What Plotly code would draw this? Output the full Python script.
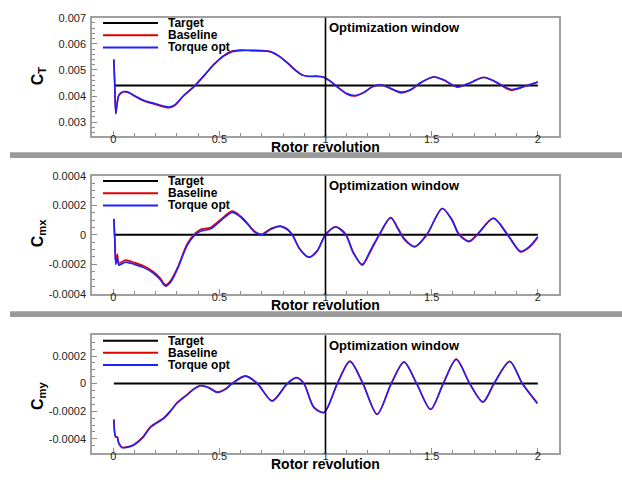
import plotly.graph_objects as go

# ---------------- data ----------------
# Thrust coefficient C_T
ct_x = [0.003, 0.007, 0.012, 0.018, 0.025, 0.035, 0.05, 0.06, 0.08, 0.10, 0.145, 0.20, 0.24,
        0.265, 0.29, 0.33, 0.385, 0.43, 0.475, 0.52, 0.56, 0.60, 0.65, 0.70, 0.74, 0.78,
        0.82, 0.86, 0.89, 0.92, 0.96, 0.99, 1.02, 1.06, 1.10, 1.14, 1.18, 1.22, 1.26, 1.30,
        1.355, 1.40, 1.45, 1.51, 1.56, 1.62, 1.68, 1.745, 1.80, 1.875, 1.94, 2.0]
ct_torque = [0.00539, 0.0045, 0.00334, 0.0037, 0.0040, 0.00411, 0.00417, 0.00417, 0.00411,
             0.00401, 0.00383, 0.0037, 0.00361, 0.00358, 0.00366, 0.0040, 0.0044, 0.0048,
             0.00521, 0.00553, 0.0057, 0.00574, 0.00574, 0.00573, 0.0057, 0.00553, 0.00527,
             0.00497, 0.0048, 0.00475, 0.00475, 0.00472, 0.00458, 0.00432, 0.0041, 0.00402,
             0.00414, 0.00435, 0.00443, 0.00432, 0.00415, 0.00424, 0.00452, 0.00473, 0.0046,
             0.00436, 0.0045, 0.00471, 0.00455, 0.00425, 0.00438, 0.00454]
ct_baseline = [0.00541, 0.0045, 0.00332, 0.0037, 0.0040, 0.00410, 0.00416, 0.00416, 0.00410,
               0.00400, 0.00381, 0.00368, 0.00358, 0.00355, 0.00364, 0.0040, 0.0044, 0.0048,
               0.00522, 0.00555, 0.00572, 0.00576, 0.00575, 0.00574, 0.0057, 0.00554, 0.00528,
               0.00498, 0.00481, 0.00476, 0.00476, 0.00473, 0.00459, 0.00432, 0.00408, 0.00400,
               0.00413, 0.00435, 0.00442, 0.00431, 0.00412, 0.00423, 0.00452, 0.00474, 0.0046,
               0.00434, 0.0045, 0.00472, 0.00455, 0.00422, 0.00437, 0.00454]
ct_target = 0.0044

# Rolling moment coefficient C_mx
cmx_x = [0.003, 0.008, 0.012, 0.019, 0.026, 0.035, 0.058, 0.10, 0.144, 0.19, 0.22, 0.246,
         0.27, 0.302, 0.349, 0.385, 0.411, 0.459, 0.51, 0.561, 0.60, 0.631, 0.665, 0.699,
         0.745, 0.788, 0.82, 0.843, 0.88, 0.922, 0.96, 1.0, 1.048, 1.095, 1.13, 1.173, 1.21,
         1.252, 1.307, 1.345, 1.37, 1.421, 1.476, 1.55, 1.595, 1.629, 1.676, 1.715, 1.791,
         1.857, 1.919, 1.96, 2.0]
cmx_torque = [0.000108, -0.00005, -0.0002, -0.000155, -0.000205, -0.0002, -0.000185, -0.0002,
              -0.000222, -0.00026, -0.0003, -0.000347, -0.00032, -0.000233, -0.00007, 0.0,
              0.000024, 0.00004, 0.0001, 0.000152, 0.00012, 0.000075, 0.00002, 0.0, 0.00004,
              0.000057, 0.000035, 0.0, -0.0001, -0.000152, -0.00011, 0.0, 0.000053, 0.0,
              -0.00012, -0.0002, -0.00011, 0.0, 0.000115, 0.00003, -0.00003, -0.000079, 0.0,
              0.000178, 0.0001, 0.0, -0.000046, 0.0, 0.000112, 0.0, -0.000112, -0.00008,
              -0.000013]
cmx_baseline = [0.000108, -0.00005, -0.00019, -0.00013, -0.00019, -0.000188, -0.000171,
                -0.000188, -0.000211, -0.00025, -0.00029, -0.000338, -0.00031, -0.000225,
                -0.00006, 0.000008, 0.000036, 0.00005, 0.000108, 0.00016, 0.000126, 0.00008,
                0.000025, 0.000004, 0.000044, 0.00006, 0.00004, 0.000004, -0.000098,
                -0.000152, -0.000112, 0.0, 0.000055, 0.000006, -0.000115, -0.000205,
                -0.000118, -0.000006, 0.000116, 0.000036, -0.000024, -0.000082, -0.000004,
                0.000178, 0.000106, 0.000006, -0.000044, 0.000004, 0.000113, 0.000006,
                -0.000116, -0.000085, -0.000018]

# Pitching moment coefficient C_my
cmy_x = [0.003, 0.011, 0.019, 0.026, 0.042, 0.07, 0.097, 0.14, 0.176, 0.238, 0.27, 0.302,
         0.349, 0.38, 0.411, 0.45, 0.49, 0.53, 0.561, 0.623, 0.679, 0.749, 0.82, 0.864,
         0.898, 0.945, 0.993, 1.056, 1.115, 1.176, 1.243, 1.31, 1.37, 1.429, 1.495, 1.555,
         1.616, 1.679, 1.742, 1.794, 1.868, 1.927, 1.998]
cmy_torque = [-0.000264, -0.000387, -0.00039, -0.000433, -0.000464, -0.00046, -0.000445,
              -0.00039, -0.000316, -0.000252, -0.0002, -0.000139, -0.00008, -0.00004,
              -0.000016, -0.00003, -0.000064, -0.00004, 0.0, 0.000054, 0.0, -0.000127, 0.0,
              0.000042, 0.0, -0.000174, -0.00021, 0.0, 0.00016, 0.0, -0.000221, 0.0,
              0.000155, 0.0, -0.000186, 0.0, 0.000175, 0.0, -0.000132, 0.0, 0.00016, 0.0,
              -0.000144]
cmy_baseline = [-0.000258, -0.000383, -0.000386, -0.00043, -0.000462, -0.000458, -0.000442,
                -0.000386, -0.000312, -0.000248, -0.000196, -0.000136, -0.000078, -0.000038,
                -0.000014, -0.000028, -0.000061, -0.000037, 0.000003, 0.000056, 0.000002,
                -0.000125, 0.000002, 0.000044, 0.000002, -0.00017, -0.000208, 0.000003,
                0.000163, 0.000003, -0.000224, 0.000003, 0.000158, 0.000003, -0.000188,
                0.000003, 0.000178, 0.000003, -0.000135, 0.000003, 0.000162, 0.000003,
                -0.00014]

target_x = [0.003, 2.0]
window_start = 1.0

x_tickvals = [0, 0.5, 1, 1.5, 2]
x_ticktext = ["0", "0.5", "1", "1.5", "2"]
ct_tickvals = [0.003, 0.004, 0.005, 0.006, 0.007]
ct_ticktext = ["0.003", "0.004", "0.005", "0.006", "0.007"]
cmx_tickvals = [-0.0004, -0.0002, 0, 0.0002, 0.0004]
cmx_ticktext = ["-0.0004", "-0.0002", "0", "0.0002", "0.0004"]
cmy_tickvals = [-0.0004, -0.0002, 0, 0.0002]
cmy_ticktext = ["-0.0004", "-0.0002", "0", "0.0002"]

series_names = ["Target", "Baseline", "Torque opt"]
series_colors = ["#000000", "#e00000", "#1f1fff"]

# ---------------- layout geometry ----------------
W, H = 622, 483
FONT = "Liberation Sans, Arial, Helvetica, sans-serif"


def px_x(p):
    return p / W


def px_y(p):
    return 1 - p / H


panels = [
    dict(top=12, bottom=133, yrange=[0.00248, 0.007], tv=ct_tickvals, tt=ct_ticktext,
         minor=0.0002, title="<b>C<sub>T</sub></b>", title_y=72, xtitle_y=145,
         x=ct_x, base=ct_baseline, opt=ct_torque, target=ct_target),
    dict(top=174, bottom=295.3, yrange=[-0.0004, 0.0004], tv=cmx_tickvals, tt=cmx_ticktext,
         minor=0.00005, title="<b>C<sub>mx</sub></b>", title_y=233, xtitle_y=306.5,
         x=cmx_x, base=cmx_baseline, opt=cmx_torque, target=0.0),
    dict(top=337.7, bottom=458, yrange=[-0.0005, 0.00035], tv=cmy_tickvals, tt=cmy_ticktext,
         minor=0.00005, title="<b>C<sub>my</sub></b>", title_y=400, xtitle_y=470,
         x=cmy_x, base=cmy_baseline, opt=cmy_torque, target=0.0),
]

fig = go.Figure()
shapes = []
annotations = []
layout = dict(
    width=W, height=H,
    margin=dict(l=0, r=0, t=0, b=0),
    paper_bgcolor="white", plot_bgcolor="white",
    showlegend=False,
    font=dict(family=FONT, color="#222222"),
)

for i, p in enumerate(panels):
    n = "" if i == 0 else str(i + 1)
    xa, ya = "x" + n, "y" + n
    layout["xaxis" + n] = dict(
        domain=[px_x(92), px_x(559)], anchor=ya, range=[-0.1, 2.1],
        tickvals=x_tickvals, ticktext=x_ticktext, ticks="inside", ticklen=5,
        tickcolor="#8a8a8a", showline=True, mirror=True, linecolor="#a0a0a0",
        linewidth=1.5, showgrid=False, zeroline=False, ticklabelstandoff=-8,
        tickfont=dict(size=11, color="#222222"),
        minor=dict(dtick=0.1, tick0=0, ticks="inside", ticklen=3, tickcolor="#8a8a8a",
                   showgrid=False),
    )
    layout["yaxis" + n] = dict(
        domain=[px_y(p["bottom"]), px_y(p["top"])], anchor=xa, range=p["yrange"],
        tickvals=p["tv"], ticktext=p["tt"], ticks="inside", ticklen=5,
        tickcolor="#8a8a8a", showline=True, mirror=True, linecolor="#a0a0a0",
        linewidth=1.5, showgrid=False, zeroline=False, ticklabelstandoff=2,
        tickfont=dict(size=11, color="#222222"),
        minor=dict(dtick=p["minor"], tick0=0, ticks="inside", ticklen=3,
                   tickcolor="#8a8a8a", showgrid=False),
    )

    # target line
    fig.add_trace(go.Scatter(x=target_x, y=[p["target"]] * len(target_x), mode="lines",
                             line=dict(color=series_colors[0], width=2),
                             xaxis=xa, yaxis=ya, name=series_names[0]))
    # baseline and optimised curves
    fig.add_trace(go.Scatter(x=p["x"], y=p["base"], mode="lines",
                             line=dict(color=series_colors[1], width=1.6, shape="spline",
                                       smoothing=0.8),
                             xaxis=xa, yaxis=ya, name=series_names[1]))
    fig.add_trace(go.Scatter(x=p["x"], y=p["opt"], mode="lines",
                             line=dict(color=series_colors[2], width=1.6, shape="spline",
                                       smoothing=0.8),
                             xaxis=xa, yaxis=ya, name=series_names[2]))

    # start of the optimization window
    shapes.append(dict(type="line", xref=xa, yref=ya + " domain", x0=window_start,
                       x1=window_start, y0=0, y1=1, line=dict(color="black", width=1.6)))
    annotations.append(dict(text="<b>Optimization window</b>", xref="paper", yref="paper",
                            x=px_x(327), y=px_y(p["top"] + 10), xanchor="left",
                            yanchor="middle", showarrow=False,
                            font=dict(size=13, color="black", family=FONT)))

    # legend block
    for k, off in enumerate([5.5, 18, 30.5]):
        yy = px_y(p["top"] + off)
        shapes.append(dict(type="line", xref="paper", yref="paper", x0=px_x(103),
                           x1=px_x(158), y0=yy, y1=yy,
                           line=dict(color=series_colors[k], width=2)))
        annotations.append(dict(text="<b>%s</b>" % series_names[k], xref="paper",
                                yref="paper", x=px_x(166), y=yy, xanchor="left",
                                yanchor="middle", showarrow=False,
                                font=dict(size=12, color="black", family=FONT)))

    # axis titles
    annotations.append(dict(text=p["title"], xref="paper", yref="paper", x=px_x(38),
                            y=px_y(p["title_y"]), xanchor="center", yanchor="middle",
                            textangle=-90, showarrow=False,
                            font=dict(size=16, color="black", family=FONT)))
    annotations.append(dict(text="<b>Rotor revolution</b>", xref="paper", yref="paper",
                            x=px_x(325), y=px_y(p["xtitle_y"]), xanchor="center",
                            yanchor="middle", showarrow=False,
                            font=dict(size=14, color="black", family=FONT)))

# grey separators between the panels
for y0, y1 in [(150, 156), (313, 319)]:
    shapes.append(dict(type="rect", xref="paper", yref="paper", x0=px_x(10), x1=1,
                       y0=px_y(y1), y1=px_y(y0), fillcolor="#9a9a9a", line=dict(width=0),
                       layer="above"))

layout["shapes"] = shapes
layout["annotations"] = annotations
fig.update_layout(**layout)
fig.write_html("out.html")
